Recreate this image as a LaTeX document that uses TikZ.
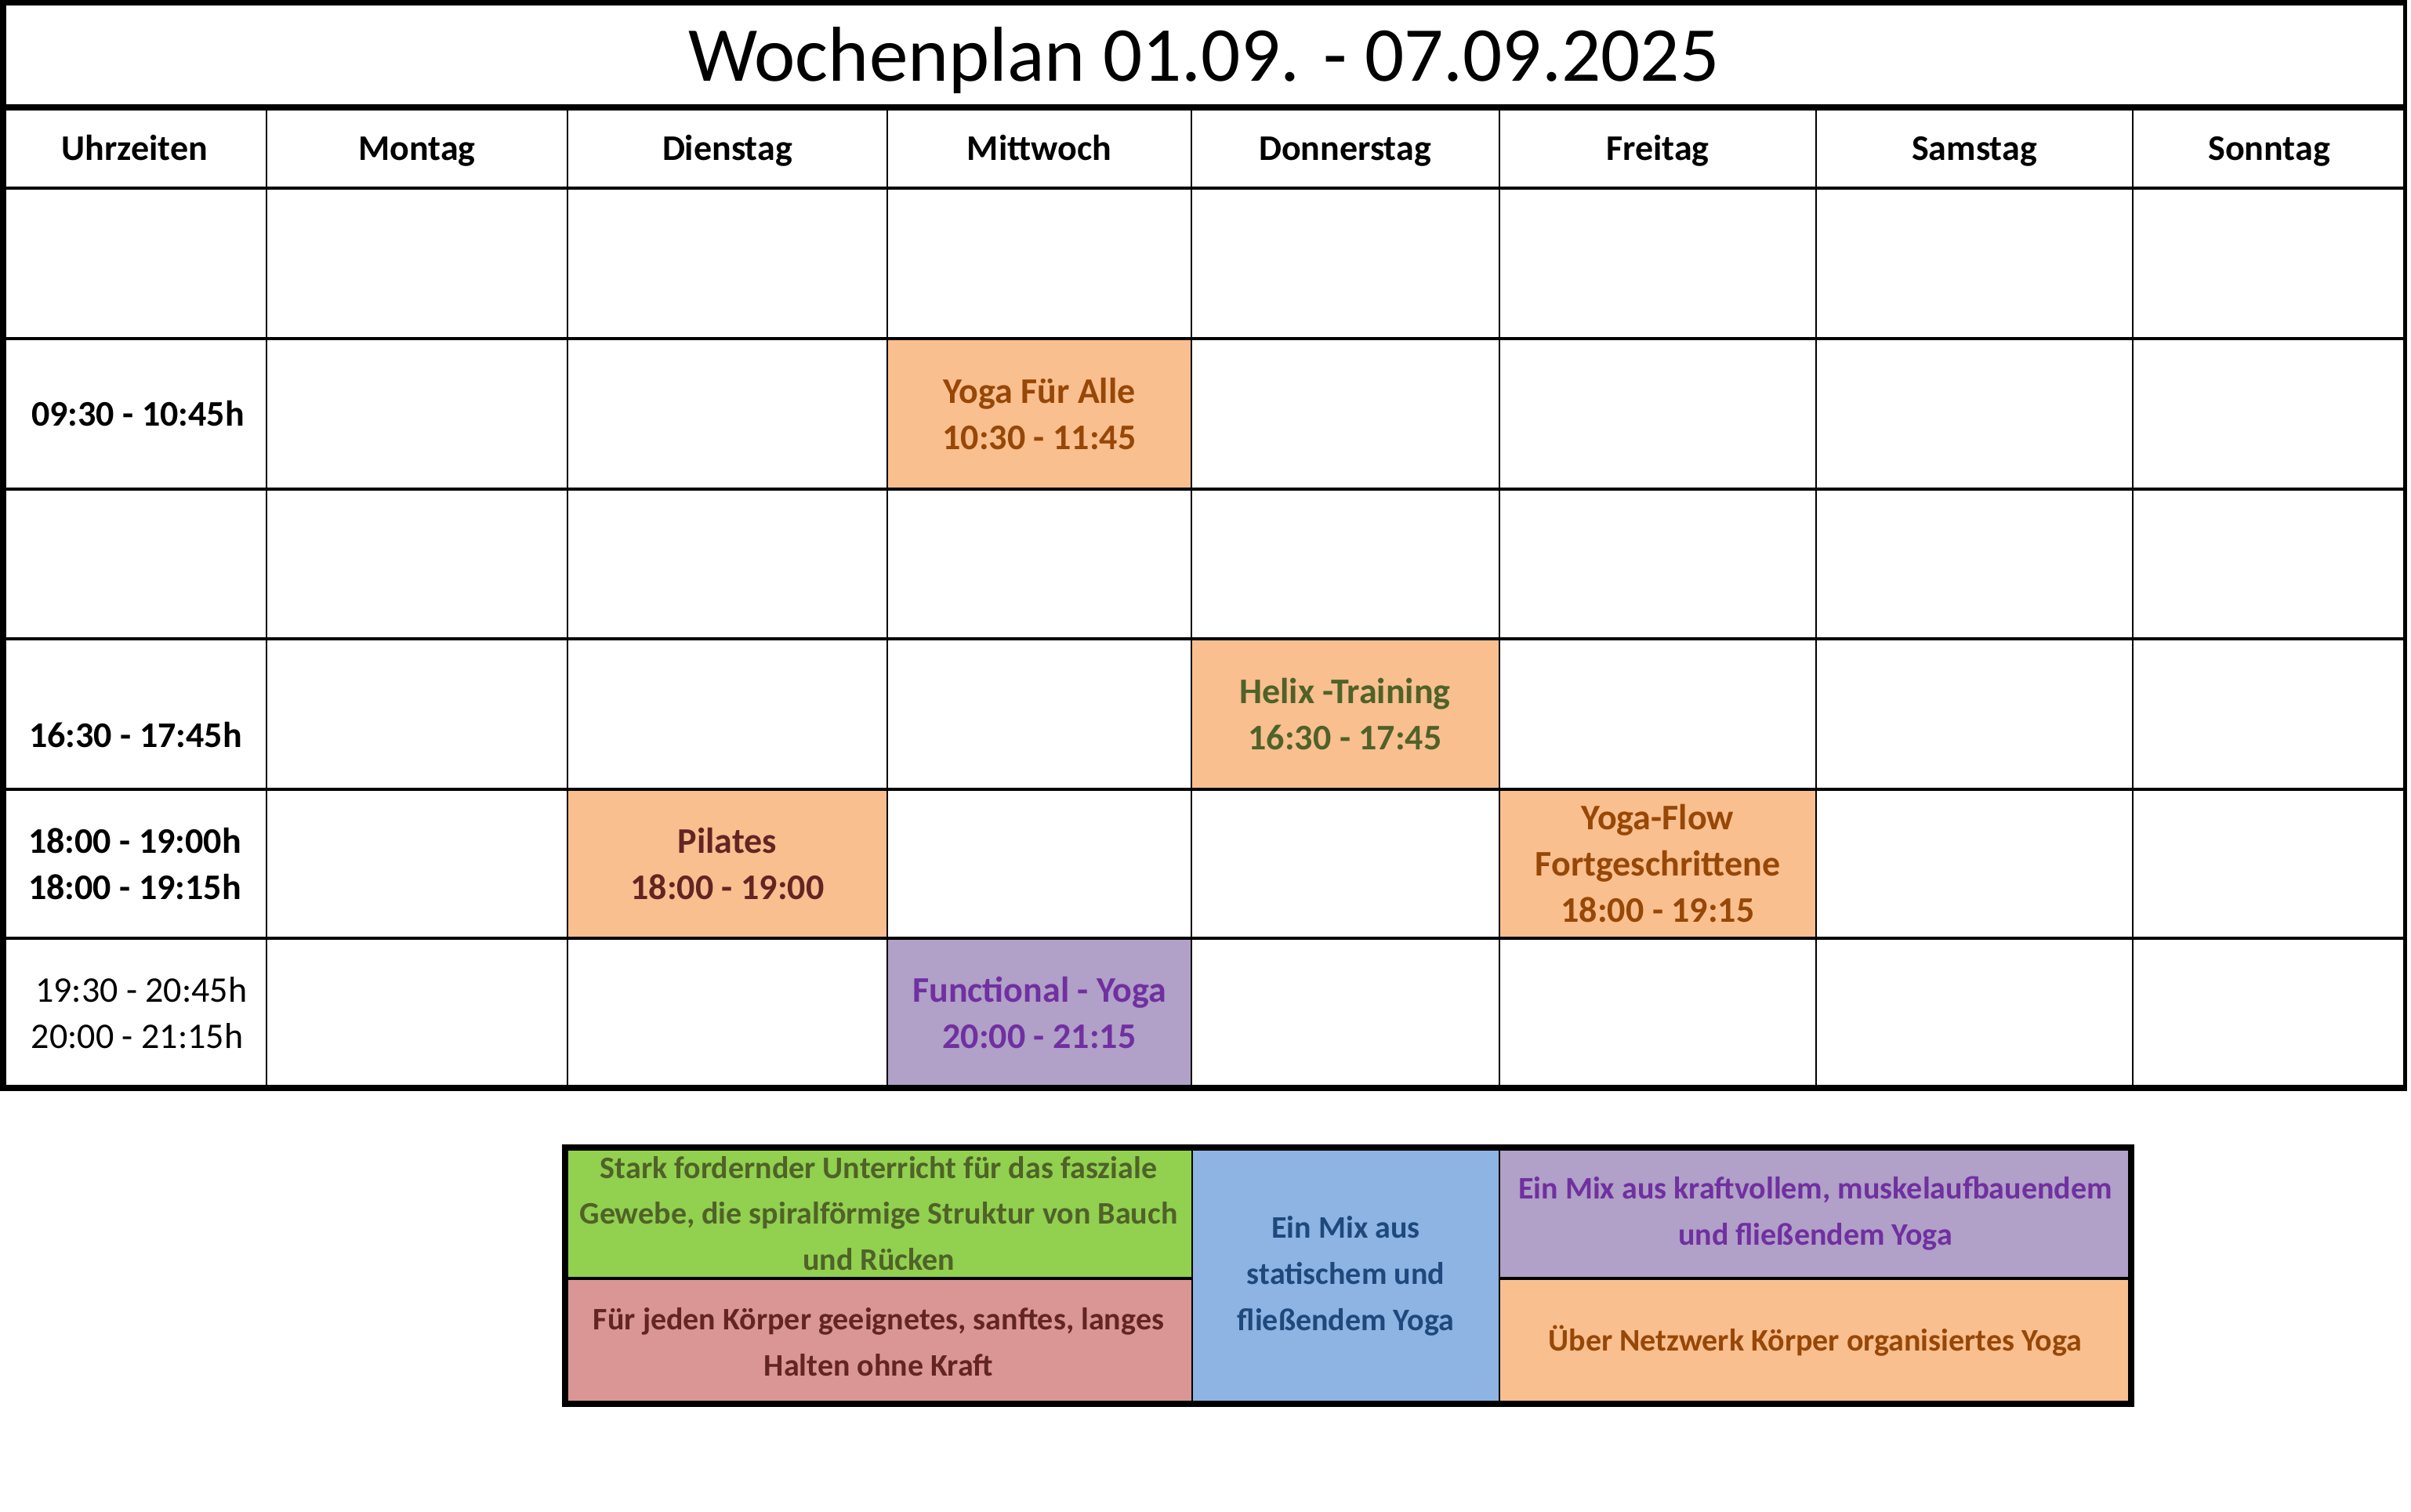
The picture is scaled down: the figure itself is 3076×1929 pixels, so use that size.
\documentclass[tikz,border=0pt]{standalone}
\usepackage{fontspec}
\setmainfont{Carlito}
\definecolor{orfill}{HTML}{F9BF8F}
\definecolor{purfill}{HTML}{B1A0C7}
\definecolor{grfill}{HTML}{92D050}
\definecolor{redfill}{HTML}{DA9694}
\definecolor{blufill}{HTML}{8DB4E2}
\definecolor{ortext}{HTML}{974706}
\definecolor{grtext}{HTML}{4F6228}
\definecolor{redtext}{HTML}{632523}
\definecolor{blutext}{HTML}{1F497D}
\definecolor{purtext}{HTML}{7030A0}
\tikzset{
  thinln/.style={line width=0.65pt, black},
  medln/.style={line width=1.2pt, black},
  thickln/.style={line width=1.9pt, black},
  titletxt/.style={font=\fontsize{24.8}{30}\selectfont, inner sep=0pt, anchor=base},
  headtxt/.style={font=\bfseries\fontsize{11.5}{14.75}\selectfont, inner sep=0pt, anchor=base},
  celltxt/.style={font=\bfseries\fontsize{11.5}{14.75}\selectfont, inner sep=0pt, align=center},
  timetxt/.style={font=\bfseries\fontsize{11.5}{14.75}\selectfont, inner sep=0pt, align=center},
  timereg/.style={font=\fontsize{11.5}{14.75}\selectfont, inner sep=0pt, align=center},
  legtxt/.style={font=\bfseries\fontsize{10}{14.7}\selectfont, inner sep=0pt, align=center},
}
\begin{document}
\begin{tikzpicture}[x=0.25pt, y=-0.25pt]
\useasboundingbox (0,0) rectangle (3076,1929);
\fill[white] (0,0) rectangle (3076,1929);
% coloured cells
\fill[orfill] (1132,432) rectangle (1520,624);
\fill[orfill] (1520,815) rectangle (1913,1007);
\fill[orfill] (724,1007) rectangle (1132,1197);
\fill[orfill] (1913,1007) rectangle (2317,1197);
\fill[purfill] (1132,1197) rectangle (1520,1388);
% grid
\foreach \xx in {340,724,1132,1520,1913,2317,2721}
  \draw[thinln] (\xx,137) -- (\xx,1388);
\foreach \yy in {240,432,624,815,1007,1197}
  \draw[medln] (4,\yy) -- (3068,\yy);
\draw[thickln] (4,137) -- (3068,137);
\draw[thickln] (0,3.5) -- (3070,3.5);
\draw[thickln] (4,0) -- (4,1392);
\draw[line width=1.25pt] (3068,0) -- (3068,1392);
\draw[thickln] (0,1388) -- (3070,1388);
% title and headers
\node[titletxt] (title) at (1536,103) {Wochenplan 01.09. - 07.09.2025};
\node[headtxt] (hUhr) at (172,204) {Uhrzeiten};
\node[headtxt] (hMo) at (532,204) {Montag};
\node[headtxt] (hDi) at (928,204) {Dienstag};
\node[headtxt] (hMi) at (1326,204) {Mittwoch};
\node[headtxt] (hDo) at (1716,204) {Donnerstag};
\node[headtxt] (hFr) at (2115,204) {Freitag};
\node[headtxt] (hSa) at (2519,204) {Samstag};
\node[headtxt] (hSo) at (2895,204) {Sonntag};
% time labels
\node[timetxt] (t2) at (176,528) {09:30 - 10:45h};
\node[timetxt] (t4) at (173,938) {16:30 - 17:45h};
\node[timetxt] (t5) at (172,1102) {18:00 - 19:00h\\18:00 - 19:15h};
\node[timereg] (t6) at (175,1292) {\ 19:30 - 20:45h\\20:00 - 21:15h};
% classes
\node[celltxt, text=ortext] (yoga) at (1326,528) {Yoga Für Alle\\10:30 - 11:45};
\node[celltxt, text=grtext] (helix) at (1716,911) {Helix -Training\\16:30 - 17:45};
\node[celltxt, text=redtext] (pilates) at (928,1102) {Pilates\\18:00 - 19:00};
\node[celltxt, text=ortext] (flow) at (2115,1102) {Yoga-Flow\\Fortgeschrittene\\18:00 - 19:15};
\node[celltxt, text=purtext] (func) at (1326,1292) {Functional - Yoga\\20:00 - 21:15};
% legend
\fill[grfill] (721,1464) rectangle (1521,1631);
\fill[redfill] (721,1631) rectangle (1521,1791);
\fill[blufill] (1521,1464) rectangle (1913,1791);
\fill[purfill] (1913,1464) rectangle (2719,1631);
\fill[orfill] (1913,1631) rectangle (2719,1791);
\draw[thinln] (1521,1464) -- (1521,1791);
\draw[thinln] (1913,1464) -- (1913,1791);
\draw[medln] (721,1631) -- (1521,1631);
\draw[medln] (1913,1631) -- (2719,1631);
\draw[thickln] (721,1464) rectangle (2719,1791);
\node[legtxt, text=grtext] (lgreen) at (1121,1548) {Stark fordernder Unterricht für das fasziale\\Gewebe, die spiralförmige Struktur von Bauch\\und Rücken};
\node[legtxt, text=redtext] (lred) at (1121,1712) {Für jeden Körper geeignetes, sanftes, langes\\Halten ohne Kraft};
\node[legtxt, text=blutext] (lblue) at (1717,1628) {Ein Mix aus\\statischem und\\fließendem Yoga};
\node[legtxt, text=purtext] (lpurple) at (2316,1548) {Ein Mix aus kraftvollem, muskelaufbauendem\\und fließendem Yoga};
\node[legtxt, text=ortext] (lorange) at (2316,1711) {Über Netzwerk Körper organisiertes Yoga};
\end{tikzpicture}
\end{document}
